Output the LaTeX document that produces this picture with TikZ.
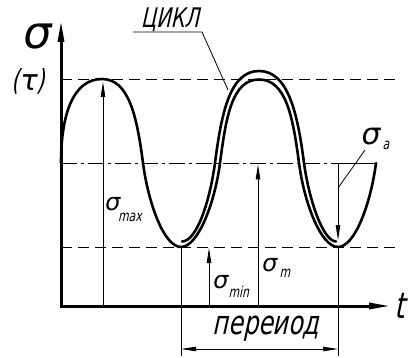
\documentclass[tikz,border=0pt]{standalone}
\usepackage{fontspec}
\usetikzlibrary{arrows.meta}
\newfontfamily\gost[FakeStretch=0.72,FakeSlant=0.22]{DejaVu Sans}
\newfontfamily\grk[FakeSlant=0.18]{DejaVu Sans}
\begin{document}
\begin{tikzpicture}[x=1pt,y=-1pt,
  axis/.style={line width=3pt,line join=miter},
  curve/.style={line width=2.6pt,line cap=round,line join=round},
  thin/.style={line width=0.8pt},
  dashline/.style={line width=0.8pt,dash pattern=on 11pt off 6pt},
  dashdot/.style={line width=0.8pt,dash pattern=on 16pt off 4pt on 3pt off 4pt},
  bigtip/.tip={Triangle[length=22pt,width=6pt]},
  smalltip/.tip={Triangle[length=15pt,width=4.5pt]},
  lbl/.style={inner sep=0pt,outer sep=0pt,anchor=base west}]
\fill[white] (0,0) rectangle (412,358);
\useasboundingbox (0,0) rectangle (412,358);

% reference coordinates
\coordinate (O) at (61,306);
\coordinate (Ytop) at (61,20);
\coordinate (Xend) at (391,306);
\coordinate (TopL) at (61,79);  \coordinate (TopR) at (396,79);
\coordinate (MidL) at (61,163); \coordinate (MidA) at (338,163); \coordinate (MidR) at (376,163);
\coordinate (BotL) at (61,247); \coordinate (BotR) at (396,247);

% horizontal reference lines
\draw[dashline] (TopL) -- (TopR);
\draw[dashline] (BotL) -- (BotR);
\draw[dashdot] (MidL) -- (MidA);
\draw[thin] (MidA) -- (MidR);

% main curve
\draw[curve] (61,163) .. controls (61,117) and (72,79) .. (102,79)
  .. controls (129,79) and (137,117) .. (143,163)
  .. controls (148.2,203) and (164,247) .. (181,247)
  .. controls (198,247) and (214.8,203) .. (220,163)
  .. controls (226,117) and (232,79.5) .. (259,79.5)
  .. controls (286,79.5) and (293,117) .. (299,163)
  .. controls (304.2,203) and (321,247) .. (338,247)
  .. controls (355,247) and (370.8,203) .. (376,163);
% second line of the cycle
\draw[curve] (182,241.5) .. controls (197,241.5) and (210,200) .. (215,163)
  .. controls (221.5,112.6) and (230,71) .. (259,71)
  .. controls (288,71) and (297.5,112.6) .. (304,163)
  .. controls (309,200) and (323,241) .. (336,241.5);

% axes
\draw[axis,{bigtip}-{bigtip}] (Ytop) -- (O) -- (Xend);

% vertical measure lines
\coordinate (Amax0) at (103,306); \coordinate (Amax1) at (103,82);
\coordinate (Amin0) at (209,306); \coordinate (Amin1) at (209,248);
\coordinate (Am0) at (258,306);   \coordinate (Am1) at (258,164.5);
\coordinate (Aa0) at (338,163);   \coordinate (Aa1) at (338,240);
\draw[thin,-{smalltip}] (Amax0) -- (Amax1);
\draw[thin,-{smalltip}] (Amin0) -- (Amin1);
\draw[thin,-{smalltip}] (Am0) -- (Am1);
\draw[thin,-{smalltip}] (Aa0) -- (Aa1);

% period dimension
\coordinate (E1t) at (181,247); \coordinate (E1b) at (181,356);
\coordinate (E2t) at (338,247); \coordinate (E2b) at (338,356);
\draw[thin] (E1t) -- (E1b);
\draw[thin] (E2t) -- (E2b);
\coordinate (D1) at (181,349); \coordinate (D2) at (338,349);
\draw[thin,{smalltip}-{smalltip}] (D1) -- (D2);
\node[inner sep=0pt] (per) at (266,329) {\gost\fontsize{33}{33}\selectfont переиод};

% labels
\node[inner sep=0pt] (sig) at (36,37) {\grk\fontsize{45}{45}\selectfont σ};
\node[inner sep=0pt] (tau) at (28,81) {\gost\fontsize{29}{29}\selectfont (\grk τ\gost)};
\node[lbl] (smax) at (104,211) {\grk\fontsize{24}{24}\selectfont σ\kern-1pt\raisebox{-10pt}{\gost\fontsize{15}{15}\selectfont max}};
\node[lbl] (smin) at (212,288) {\grk\fontsize{24}{24}\selectfont σ\kern1.5pt\raisebox{-9pt}{\gost\fontsize{15}{15}\selectfont min}};
\node[lbl] (sm) at (261,271) {\grk\fontsize{24}{24}\selectfont σ\kern3.5pt\raisebox{-6pt}{\gost\fontsize{15}{15}\selectfont m}};
\node[lbl] (sa) at (360,145) {\grk\fontsize{30}{30}\selectfont σ\kern3.5pt\raisebox{-5pt}{\gost\fontsize{15}{15}\selectfont a}};
\node[inner sep=0pt] (tlab) at (400,306) {\gost\fontsize{36}{36}\selectfont t};

% cycle label with leader
\node[inner sep=0pt,anchor=base] (cyc) at (170,28) {\gost\fontsize{27}{27}\selectfont ЦИКЛ};
\coordinate (U1) at (133,32); \coordinate (U2) at (202,32); \coordinate (U3) at (228,90);
\draw[thin] (U1) -- (U2) -- (U3);
% sigma_a leader
\coordinate (La1) at (365,150); \coordinate (La2) at (338,188);
\draw[thin] (La1) -- (La2);
\end{tikzpicture}
\end{document}
